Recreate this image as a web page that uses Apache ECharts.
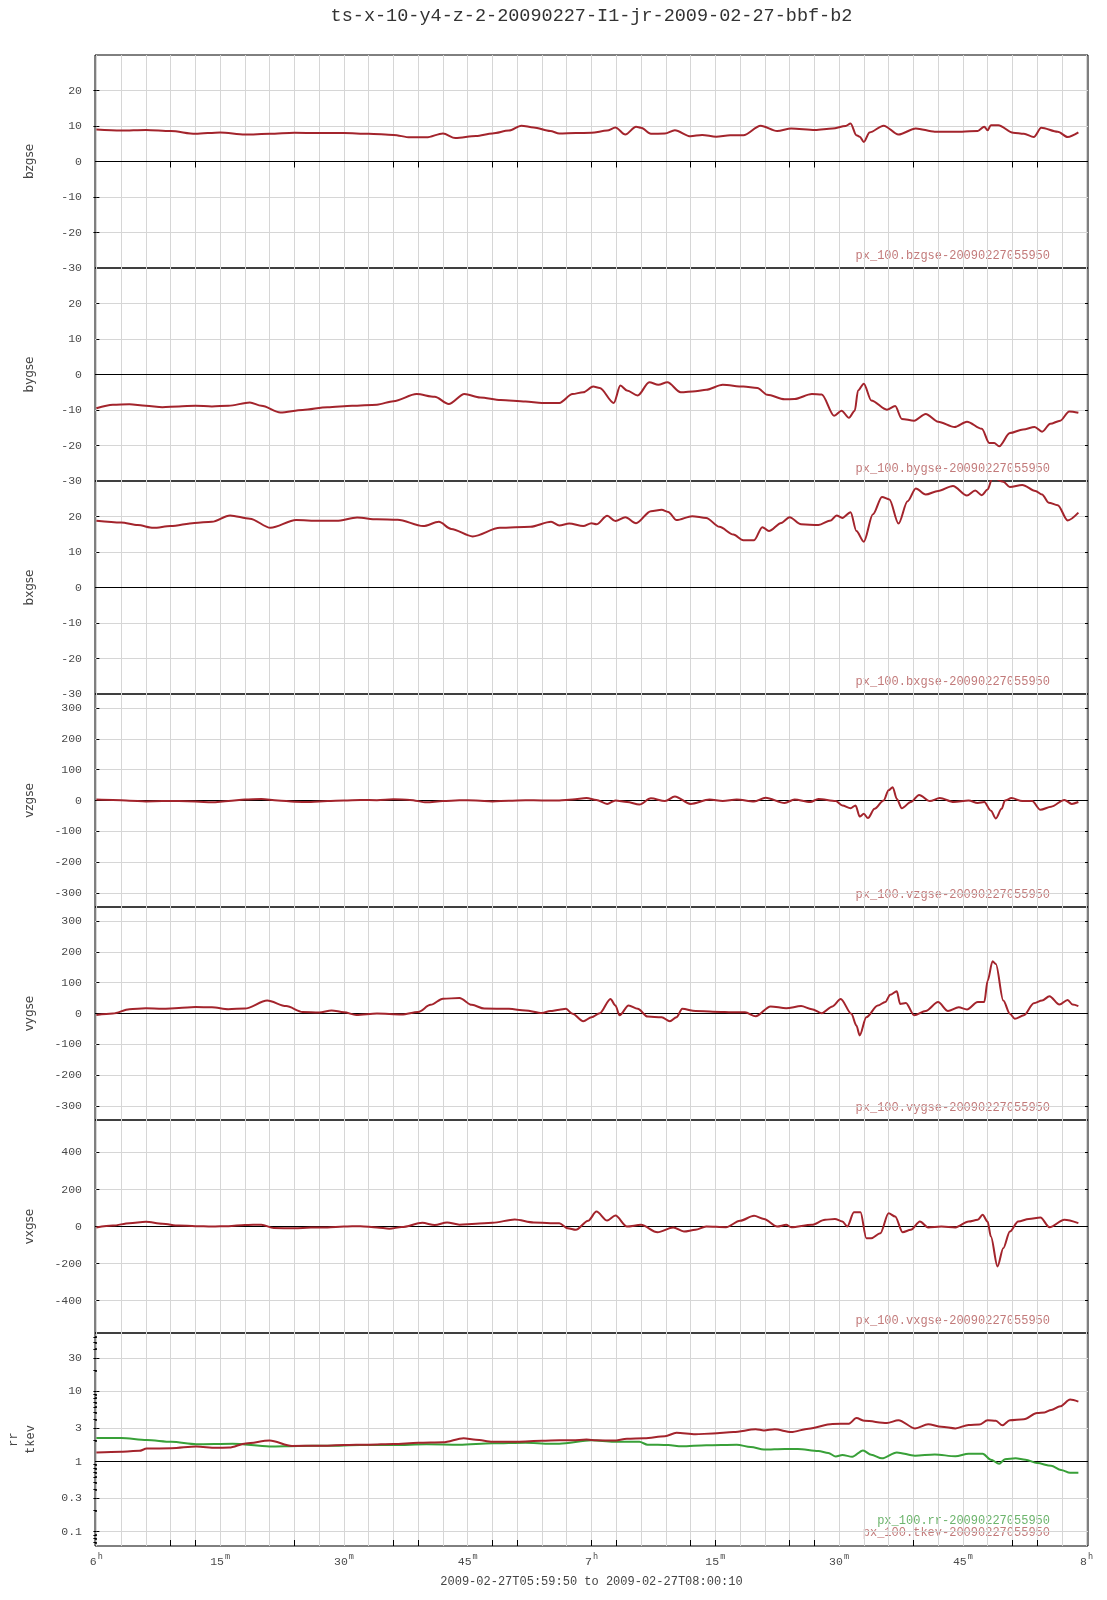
<!DOCTYPE html>
<html><head><meta charset="utf-8">
<script src="https://cdn.jsdelivr.net/npm/echarts@6/dist/echarts.min.js"></script>
<style>html,body{margin:0;padding:0;background:#fff}#c{width:1107px;height:1600px}</style>
</head><body><div id="c"></div>
<script>
// ---------------- data (minutes after 06:00) ----------------
const tBz = [0,3,6,9,12,15,18,21,24,27,30,33,36,38,40,42,43.5,46,48,50,51.5,53,55,56.1,58.1,60,61.9,62.9,64.1,65.4,66,67.2,68.9,70.1,72,73.4,75.1,76.8,78.4,80.5,82.5,84.2,87.1,89.2,90.8,91.4,92.1,92.5,93,93.7,95.4,97.2,99.3,101.6,104.9,106.8,107.6,108,108.4,109.3,111.1,112.4,113.6,114.5,116.5,117.7,119];
const bz = [9.0,8.7,8.9,8.6,7.8,8.2,7.6,7.8,8.1,8.0,8.0,7.8,7.5,6.8,6.8,7.9,6.6,7.2,7.9,8.7,10.1,9.6,8.6,7.9,8.0,8.1,8.7,9.6,7.6,9.8,9.5,7.8,7.9,8.8,7.1,7.5,7.0,7.4,7.4,10.1,8.6,9.3,8.9,9.3,10.0,10.7,7.4,7.0,5.5,8.2,10.1,7.6,9.3,8.4,8.4,8.6,9.8,8.8,10.2,10.2,8.1,7.8,6.9,9.5,8.4,6.9,8.2];

const tBy = [0,2,4,6,8,10,12,14,16,18.6,20,22.3,25,28,31,34,36,38.8,41,42.7,44.6,46.5,49,52,54,56.1,57.7,59,60.2,61,62.7,63.5,64.3,65.6,67,68.1,69.2,70.8,72.6,73.9,75.9,78.4,80.1,81.3,83.4,84.6,86.7,87.9,89.4,90.3,91.2,91.9,92.3,93,93.9,95.8,96.8,97.6,99.1,100.5,102,104,105.5,107.3,108.2,108.8,109.4,110.7,112.3,113.7,114.6,115.6,116.8,117.9,119];
const by = [-9.5,-8.5,-8.4,-8.8,-9.2,-9.0,-8.8,-9.0,-8.8,-7.9,-8.8,-10.7,-10.0,-9.2,-8.8,-8.5,-7.5,-5.5,-6.3,-8.3,-5.5,-6.5,-7.2,-7.6,-8.0,-8.0,-5.5,-5.0,-3.4,-3.8,-8.0,-3.1,-4.5,-5.9,-2.2,-2.9,-2.2,-5.0,-4.7,-4.3,-2.9,-3.4,-3.8,-5.7,-7.0,-6.9,-5.5,-5.6,-11.6,-10.2,-12.2,-10.2,-4.5,-2.6,-7.3,-9.9,-8.9,-12.5,-13.0,-11.1,-13.3,-14.8,-13.3,-15.3,-19.3,-19.3,-20.2,-16.5,-15.5,-14.8,-16.1,-13.9,-13.0,-10.4,-10.8];

const tBx = [0,3,5,6.9,9,11.9,14,16.2,18.6,21.1,24.2,27,29.1,31.6,34,36.5,39.6,41.5,43,45.6,48.9,52.6,55.1,56.1,57.3,59,60,60.6,61.9,62.9,64.1,65.4,67.2,68.5,69.3,70.3,72.2,73.9,75.5,77.2,78.4,79.7,80.7,81.5,83,84,85.4,87.5,89,89.7,90.4,91.4,92.1,93,94.1,95.2,96.1,97.2,98.3,99.3,100.5,102,103.8,105.5,106.5,107.3,108,108.6,109.9,110.7,112.2,113.8,114.6,115.4,116.5,117.7,119];
const bx = [18.8,18.3,17.6,16.8,17.3,18.2,18.5,20.3,19.4,16.8,19.0,18.8,18.8,19.7,19.2,19.1,17.3,18.5,16.5,14.4,16.8,17.1,18.5,17.5,18.0,17.3,18.1,17.8,20.2,18.7,19.8,18.1,21.5,21.9,21.3,19.0,20.1,19.6,17.1,14.9,13.3,13.3,17.0,15.9,18.2,19.8,17.8,17.6,18.9,20.3,19.6,21.2,15.9,12.9,20.6,25.5,24.8,18.0,24.3,27.9,26.2,27.2,28.6,25.9,27.3,26.0,27.6,31,29.8,28.3,28.9,27.2,26.2,23.9,23.2,18.9,21.1];

const tVz = [0,2,4,6,8,10,12,14,16,18,20,22,24,26,28,30,32,34,36,38,40,42,44,46,48,50,52,54,56.1,57.7,59.4,60.6,61.9,62.9,64.3,65.8,67.2,68.9,70.1,72,74.3,75.9,77.6,79.7,81.1,83.4,84.6,86.5,87.5,89.6,90.4,91.4,92,92.5,93,93.5,94.3,95.4,96,96.5,97,97.6,98.7,99.7,101,102.2,103.9,105.7,106.8,107.6,108.4,109,109.7,110.1,110.9,112.2,113.4,114.4,115.7,117.3,118.2,119];
const vz = [3,2,-1,-3,-2,-2,-3,-6,-2,3,5,0,-4,-5,-2,0,2,1,4,2,-6,-2,1,0,-3,-1,1,0,0,3,8,2,-11,0,-5,-13,7,-2,13,-11,3,-2,3,-3,9,-8,3,-5,5,-2,-16,-25,-16,-52,-43,-57,-27,0,33,43,5,-25,-5,18,-2,8,-5,0,-8,-5,-33,-58,-27,0,8,-2,-2,-30,-20,2,-11,-5];

const tVy = [0,2,4,6,8,10,12,14,16,18,20.7,23,25,27,28.5,30,31.5,34,37,39,40.5,42,44,45.5,47,50,52,54,55,56.1,56.9,57.7,59,60,61,62.3,62.9,63.4,64.5,65.6,66.8,68.5,69.5,70.3,71,72.6,74.7,77.6,78.6,79.9,81.7,83.6,85.4,86.7,87.9,89.2,90.2,91.5,92.1,92.5,93.3,94.7,95.6,96.2,97,97.4,98.1,99.1,100.5,102,103.2,104.5,105.5,106.8,107.6,108,108.6,109,109.9,110.7,111.3,112.4,113.6,114.6,115.5,116.7,117.7,118.3,119];
const vy = [-5,0,14,17,15,18,21,20,14,16,42,24,5,3,10,4,-5,0,-3,5,28,48,50,28,16,15,10,2,8,12,15,-1,-25,-12,1,47,26,-6,26,15,-10,-12,-25,-12,15,8,6,4,4,-9,23,17,24,14,1,23,47,-1,-39,-71,-12,26,37,61,72,31,34,-6,8,37,8,20,13,37,37,106,169,160,42,-1,-17,-6,33,42,56,29,44,29,24];

const tVx = [0,2,4,6,8,10,12,14,16,18,20,21.5,24,26,28,30,32,34,35.5,37,39.5,41,42.5,44,46,48,50.7,53,55,56.1,57.1,58.1,59.6,60.6,61.9,62.9,64.3,66,68,69.9,71.2,72.6,73.9,76.3,78,79.7,80.9,82.5,83.6,84.2,86.7,88.3,89.5,90.4,91,91.8,92.6,93.3,93.9,95,96,96.8,97.7,98.7,99.8,100.8,102.4,104.1,105.7,106.8,107.4,108,108.4,109.2,109.9,110.7,111.7,113,114.4,115.5,117.3,119];
const vx = [-5,5,18,25,15,5,2,0,2,8,10,-8,-10,-5,-5,0,2,-5,-12,-3,20,8,22,10,15,20,38,22,18,18,-9,-18,31,81,32,59,0,9,-31,-5,-27,-18,0,-4,31,58,41,0,9,-4,9,36,41,27,0,77,77,-63,-63,-36,72,54,-31,-18,27,-5,0,-5,27,36,63,27,-54,-216,-117,-27,27,41,49,-4,36,18];

const tRr = [0,3,6.1,9.1,12.1,16.5,21,24.5,28,32,36,40,44,48,52,55,56.1,60,62.7,65.8,66.8,69.3,70.9,73.9,77.6,79.3,80.9,83.4,85,87.5,88.7,89.6,90.4,91.6,92.9,93.9,95.2,97,99.2,101.6,104.1,105.7,107.4,108.4,109.4,110.1,111.4,112.6,114,115.7,116.9,118,119];
const rr = [2.17,2.17,2.02,1.91,1.77,1.80,1.64,1.67,1.68,1.72,1.72,1.76,1.74,1.82,1.86,1.80,1.80,2.01,1.91,1.91,1.74,1.72,1.65,1.71,1.74,1.61,1.48,1.51,1.51,1.41,1.32,1.18,1.24,1.17,1.44,1.25,1.11,1.35,1.21,1.26,1.19,1.29,1.29,1.06,0.93,1.08,1.11,1.06,0.95,0.87,0.76,0.69,0.69];

const tTk = [0,3,5.2,6.1,9.1,12.1,14.5,16.1,18.1,21,23.7,27,30,33,36,39,42,44.5,46,48,51,54,56.1,57.7,59.4,60.6,62.7,64.3,66.4,68.9,70.3,72.6,74.7,77.2,79.9,80.9,82.2,84.2,86.3,89.2,91.2,92.1,93.1,95.8,97.2,99.2,100.8,102.4,104.1,105.7,107,108,109,109.8,110.7,112.4,114,114.9,115.7,116.8,118,119];
const tk = [1.34,1.38,1.42,1.53,1.55,1.64,1.57,1.58,1.81,1.99,1.67,1.68,1.72,1.74,1.78,1.85,1.88,2.15,2.05,1.92,1.92,1.98,2.01,2.01,2.06,2.01,1.99,2.11,2.15,2.30,2.57,2.44,2.52,2.63,2.88,2.78,2.88,2.63,2.94,3.44,3.47,4.16,3.80,3.55,3.88,2.97,3.40,3.14,2.97,3.32,3.36,3.88,3.80,3.28,3.88,4.01,4.91,5.02,5.42,6.13,7.65,7.16];

// ---------------- tick / label values ----------------
const xGridMinutes = []; for (let m = 0; m <= 120; m += 3) xGridMinutes.push(m);
const xLabelMinutes = [0, 15, 30, 45, 60, 75, 90, 105, 120];
const xMarkTicks = [9, 12, 24, 36, 39, 48, 51, 60, 63, 72, 75, 84, 87, 99, 111, 114];
const bLabels = [-30, -20, -10, 0, 10, 20];
const bGrid = [-20, -10, 10, 20];
const vLabels = [-300, -200, -100, 0, 100, 200, 300];
const vGrid = [-300, -200, -100, 100, 200, 300];
const vxLabels = [-400, -200, 0, 200, 400];
const vxGrid = [-400, -200, 200, 400];
const logLabels = [0.1, 0.3, 1, 3, 10, 30];
const logGrid = [0.1, 0.3, 3, 10, 30];
const logMinor = [0.07, 0.08, 0.09, 0.2, 0.4, 0.5, 0.6, 0.7, 0.8, 0.9, 2, 4, 5, 6, 7, 8, 9, 20, 40, 50, 60];

const TITLE = 'ts-x-10-y4-z-2-20090227-I1-jr-2009-02-27-bbf-b2';
const RANGE_TEXT = '2009-02-27T05:59:50 to 2009-02-27T08:00:10';
const STAMP = '20090227055950';

// ---------------- layout ----------------
const LEFT = 95, RIGHT = 19, TOP0 = 55, PH = 213;
const XMIN = -10 / 60, XMAX = 120 + 10 / 60;
const RED = '#a3242c', GREEN = '#38a038';
const GRID_C = '#d6d6d6', LABEL_C = '#4a4a4a';
const MONO = '"Liberation Mono", "DejaVu Sans Mono", monospace';

const panels = [
  { name: 'bzgse', type: 'value', min: -30, max: 30, labels: bLabels, grid: bGrid, zero: 0, series: [{ id: 'bzgse', t: tBz, v: bz, c: RED }] },
  { name: 'bygse', type: 'value', min: -30, max: 30, labels: bLabels, grid: bGrid, zero: 0, series: [{ id: 'bygse', t: tBy, v: by, c: RED }] },
  { name: 'bxgse', type: 'value', min: -30, max: 30, labels: bLabels, grid: bGrid, zero: 0, series: [{ id: 'bxgse', t: tBx, v: bx, c: RED }] },
  { name: 'vzgse', type: 'value', min: -345, max: 345, labels: vLabels, grid: vGrid, zero: 0, series: [{ id: 'vzgse', t: tVz, v: vz, c: RED }] },
  { name: 'vygse', type: 'value', min: -345, max: 345, labels: vLabels, grid: vGrid, zero: 0, series: [{ id: 'vygse', t: tVy, v: vy, c: RED }] },
  { name: 'vxgse', type: 'value', min: -575, max: 575, labels: vxLabels, grid: vxGrid, zero: 0, series: [{ id: 'vxgse', t: tVx, v: vx, c: RED }] },
  { name: null, type: 'log', min: 0.0625, max: 68, labels: logLabels, grid: logGrid, minor: logMinor, zero: 1,
    series: [{ id: 'rr', t: tRr, v: rr, c: GREEN }, { id: 'tkev', t: tTk, v: tk, c: RED }] }
];

const grids = [], xAxes = [], yAxes = [], series = [], graphics = [];

graphics.push({ type: 'text', x: LEFT + (1107 - LEFT - RIGHT) / 2, y: 16,
  style: { text: TITLE, font: '18.5px ' + MONO, fill: '#333', align: 'center', verticalAlign: 'middle' } });
graphics.push({ type: 'text', x: LEFT + (1107 - LEFT - RIGHT) / 2, y: 1582,
  style: { text: RANGE_TEXT, font: '12px ' + MONO, fill: '#444', align: 'center', verticalAlign: 'middle' } });

panels.forEach((p, i) => {
  const top = TOP0 + i * PH;
  grids.push({ left: LEFT, right: RIGHT, top: top, height: PH, show: true, borderColor: '#000', borderWidth: 1, backgroundColor: 'transparent', containLabel: false });
  const last = i === panels.length - 1;
  const xi = xAxes.length;
  xAxes.push({
    gridIndex: i, type: 'value', min: XMIN, max: XMAX, position: 'bottom',
    axisLine: { show: false },
    axisTick: { show: false, customValues: xGridMinutes },
    splitLine: { show: true, lineStyle: { color: GRID_C, width: 1 } },
    axisLabel: last ? {
      show: true, customValues: xLabelMinutes, margin: 6,
      formatter: v => { const m = Math.round(v); return m % 60 === 0 ? '{n|' + (6 + m / 60) + '}{s|h}' : '{n|' + (m % 60) + '}{s|m}'; },
      rich: {
        n: { fontFamily: MONO, fontSize: 11.5, color: LABEL_C, lineHeight: 16, verticalAlign: 'bottom' },
        s: { fontFamily: MONO, fontSize: 8.5, color: LABEL_C, lineHeight: 16, verticalAlign: 'top', padding: [0, 0, 0, 1] }
      }
    } : { show: false }
  });
  if (i === 0 || last) {
    xAxes.push({
      gridIndex: i, type: 'value', min: XMIN, max: XMAX, position: i === 0 ? 'top' : 'bottom',
      axisLine: { show: false },
      axisTick: { show: true, inside: true, length: 6, customValues: xMarkTicks, lineStyle: { color: '#000', width: 1 } },
      axisLabel: { show: false }, splitLine: { show: false }
    });
  }
  const yi = yAxes.length;
  yAxes.push({
    gridIndex: i, type: p.type, min: p.min, max: p.max, position: 'left',
    axisLine: { show: false },
    axisTick: { show: true, inside: true, length: 3, customValues: p.grid, lineStyle: { color: '#000' } },
    splitLine: { show: true, lineStyle: { color: GRID_C, width: 1 } },
    axisLabel: { show: true, customValues: p.labels, margin: 13, color: LABEL_C, fontFamily: MONO, fontSize: 11.5,
      formatter: v => String(p.type === 'log' ? Number(v.toPrecision(2)) : v) }
  });
  yAxes.push({
    gridIndex: i, type: p.type, min: p.min, max: p.max, position: 'right',
    axisLine: { show: false },
    axisTick: { show: true, inside: true, length: 3, customValues: p.minor ? p.grid.concat(p.minor) : p.grid, lineStyle: { color: '#000' } },
    splitLine: { show: false }, axisLabel: { show: false }
  });
  if (p.minor) {
    yAxes.push({
      gridIndex: i, type: p.type, min: p.min, max: p.max, position: 'left',
      axisLine: { show: false },
      axisTick: { show: true, inside: true, length: 2, customValues: p.minor, lineStyle: { color: '#000', width: 1.5 } },
      splitLine: { show: false }, axisLabel: { show: false }
    });
  }
  p.series.forEach((s, k) => {
    series.push({
      type: 'line', name: s.id, xAxisIndex: xi, yAxisIndex: yi,
      data: s.t.map((t, j) => [t, s.v[j]]),
      showSymbol: false, smooth: 0.3, smoothMonotone: 'x', clip: true, silent: true,
      lineStyle: { color: s.c, width: 2 }, itemStyle: { color: s.c },
      emphasis: { disabled: true }, z: 3,
      markLine: k === 0 ? { silent: true, z: 1, symbol: ['none', 'none'], label: { show: false },
        lineStyle: { color: '#000', width: 1, type: 'solid' }, emphasis: { disabled: true },
        data: [{ yAxis: p.zero }] } : undefined
    });
  });
  if (p.name) {
    graphics.push({ type: 'text', x: 30, y: top + PH / 2, rotation: Math.PI / 2,
      style: { text: p.name, font: '12px "DejaVu Sans", sans-serif', fill: '#444', align: 'center', verticalAlign: 'middle' } });
    graphics.push({ type: 'text', x: 1050, y: top + PH - 12,
      style: { text: 'px_100.' + p.name + '-' + STAMP, font: '12px ' + MONO, fill: '#c27a7a', align: 'right', verticalAlign: 'middle' } });
  } else {
    graphics.push({ type: 'text', x: 14, y: top + PH / 2, rotation: Math.PI / 2,
      style: { text: 'rr', font: '12px ' + MONO, fill: '#444', align: 'center', verticalAlign: 'middle' } });
    graphics.push({ type: 'text', x: 31, y: top + PH / 2, rotation: Math.PI / 2,
      style: { text: 'tkev', font: '12px ' + MONO, fill: '#444', align: 'center', verticalAlign: 'middle' } });
    graphics.push({ type: 'text', x: 1050, y: top + PH - 25,
      style: { text: 'px_100.rr-' + STAMP, font: '12px ' + MONO, fill: '#6cb46c', align: 'right', verticalAlign: 'middle' } });
    graphics.push({ type: 'text', x: 1050, y: top + PH - 13,
      style: { text: 'px_100.tkev-' + STAMP, font: '12px ' + MONO, fill: '#c27a7a', align: 'right', verticalAlign: 'middle' } });
  }
});

const chart = echarts.init(document.getElementById('c'), null, { renderer: 'canvas' });
chart.setOption({
  animation: false,
  backgroundColor: '#fff',
  grid: grids, xAxis: xAxes, yAxis: yAxes, series: series,
  graphic: graphics
});
</script>
</body></html>
